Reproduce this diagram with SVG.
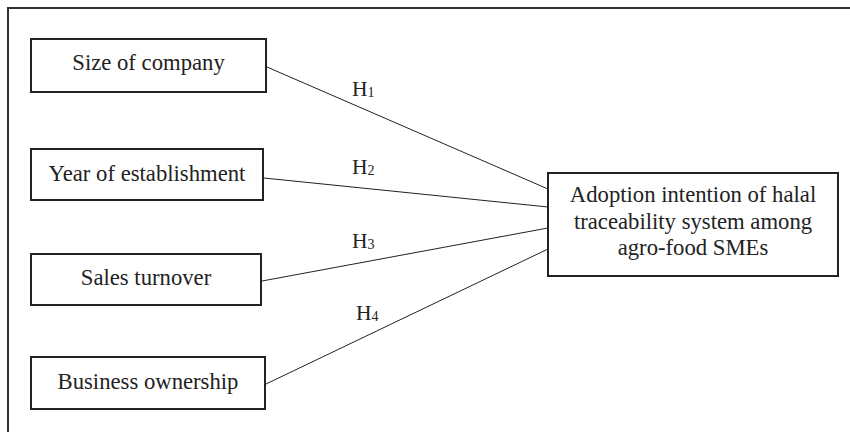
<svg xmlns="http://www.w3.org/2000/svg" width="850" height="432" viewBox="0 0 850 432">
<style>
.box{fill:#fff;stroke:#222;stroke-width:2}
.t{font-family:"Liberation Serif","Times New Roman",serif;font-size:22.7px;fill:#222;text-anchor:middle}
.h{font-family:"Liberation Serif","Times New Roman",serif;font-size:21.5px;fill:#222}
.sub{font-size:14px}
.c{stroke:#222;stroke-width:1;fill:none}
.frame{stroke:#333;stroke-width:2;fill:none}
</style>
<rect width="850" height="432" fill="#fff"/>
<path class="frame" d="M8,432 V8 H850"/>
<g id="connectors">
<line class="c" x1="267" y1="67" x2="548" y2="189"/>
<line class="c" x1="264" y1="178" x2="548" y2="207"/>
<line class="c" x1="262" y1="281" x2="548" y2="228"/>
<line class="c" x1="266" y1="384" x2="548" y2="249"/>
<text class="h" x="352" y="96">H<tspan class="sub" dy="1">1</tspan></text>
<text class="h" x="352" y="174">H<tspan class="sub" dy="1">2</tspan></text>
<text class="h" x="352" y="248">H<tspan class="sub" dy="1">3</tspan></text>
<text class="h" x="356" y="320">H<tspan class="sub" dy="1">4</tspan></text>
</g>
<g id="size">
<rect class="box" x="31" y="39" width="235" height="53"/>
<text class="t" x="148.5" y="70">Size of company</text>
</g>
<g id="year">
<rect class="box" x="31" y="149" width="232" height="51"/>
<text class="t" x="147" y="181">Year of establishment</text>
</g>
<g id="sales">
<rect class="box" x="31" y="254" width="230" height="51"/>
<text class="t" x="146" y="285">Sales turnover</text>
</g>
<g id="business">
<rect class="box" x="31" y="357" width="234" height="52"/>
<text class="t" x="148" y="389">Business ownership</text>
</g>
<g id="adoption">
<rect class="box" x="548" y="173" width="290" height="103"/>
<text class="t" x="693" y="202">Adoption intention of halal</text>
<text class="t" x="693" y="229">traceability system among</text>
<text class="t" x="693" y="255">agro-food SMEs</text>
</g>
</svg>
